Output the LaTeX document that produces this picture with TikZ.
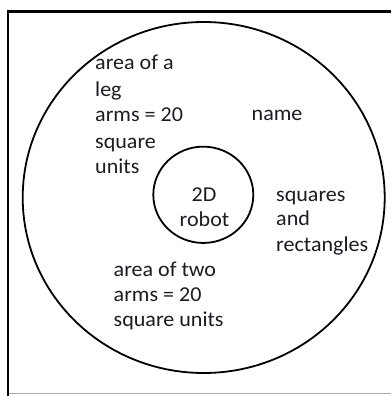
\documentclass[tikz,border=0pt]{standalone}
\usepackage{fontspec}
\setmainfont{Carlito}
\usetikzlibrary{shapes.geometric}
\definecolor{ink}{RGB}{28,28,36}
\definecolor{edge}{RGB}{170,170,170}
\tikzset{
  txt/.style={inner sep=0pt, text=ink, font=\fontsize{21.2}{25}\selectfont, xscale=1.04, transform shape},
  lbl/.style={txt, anchor=base west},
  mid/.style={txt, anchor=base},
  ring/.style={draw=black, ellipse, line width=1.8pt, inner sep=0pt}
}
\begin{document}
\begin{tikzpicture}[x=1pt,y=-1pt]
\useasboundingbox (0,0) rectangle (391,396);
\fill[white] (0,0) rectangle (391,396);
% frame
\coordinate (tl) at (8,11.3);
\coordinate (tr) at (391,11.3);
\coordinate (bl) at (8,396);
\coordinate (gl) at (8,393.5);
\coordinate (gr) at (391,393.5);
\draw[edge, line width=1pt] (gl) -- (gr);
\draw[black, line width=2.6pt] (bl) -- (tl) -- (tr);
% circles
\node[ring, minimum width=362, minimum height=351] (outer) at (203.7,197.5) {};
\node[ring, minimum width=100, minimum height=96.3] (inner) at (203.3,194.8) {};
% left text
\node[lbl] (l1) at (95,70) {area of a};
\node[lbl] (l2) at (95,96.5) {leg};
\node[lbl] (l3) at (95,121.8) {arms = 20};
\node[lbl] (l4) at (95,148) {square};
\node[lbl] (l5) at (95,173.3) {units};
% name
\node[lbl] (nm) at (251.5,120) {name};
% right text
\node[lbl] (r1) at (276,201) {squares};
\node[lbl] (r2) at (276,225.8) {and};
\node[lbl] (r3) at (276,251.7) {rectangles};
% centre
\node[mid] (c1) at (204,201.7) {2D};
\node[mid] (c2) at (204.5,226.7) {robot};
% bottom text
\node[lbl] (b1) at (113.5,276.7) {area of two};
\node[lbl] (b2) at (113.5,301.7) {arms = 20};
\node[lbl] (b3) at (113.5,326.7) {square units};
\end{tikzpicture}
\end{document}
